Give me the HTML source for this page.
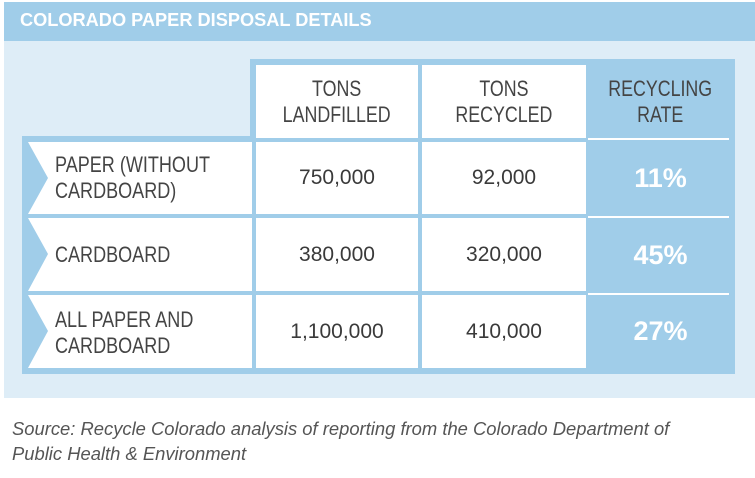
<!DOCTYPE html>
<html><head><meta charset="utf-8"><style>
body{margin:0;width:755px;height:478px;background:#fff;position:relative;overflow:hidden;font-family:"Liberation Sans",sans-serif}
.a{position:absolute}
.n{color:#444;font-size:22px;line-height:26px}
.n span{display:inline-block;transform:scaleX(0.81)}
.l{transform:scaleX(0.82);transform-origin:0 0}
.c{text-align:center;display:flex;align-items:center;justify-content:center}
.num{color:#3a3a3a;font-size:21px}
.pct{color:#fff;font-weight:bold;font-size:27px}
</style></head><body>
<svg class="a" style="left:0;top:0" width="755" height="478">
<rect x="4" y="2" width="751" height="396" fill="#deedf7"/>
<rect x="4" y="2" width="751" height="39" fill="#a0cde9"/>
<rect x="250" y="59" width="485" height="315" fill="#a0cde9"/>
<rect x="22" y="136" width="234" height="238" fill="#a0cde9"/>
<rect x="256" y="65" width="162" height="73" fill="#fff"/>
<rect x="422" y="65" width="164" height="73" fill="#fff"/>
<g fill="#fff">
<polygon points="28,142 252,142 252,214 28,214 48,178"/>
<rect x="256" y="142" width="162" height="72"/>
<rect x="422" y="142" width="164" height="72"/>
<polygon points="28,218 252,218 252,291 28,291 48,254"/>
<rect x="256" y="218" width="162" height="73"/>
<rect x="422" y="218" width="164" height="73"/>
<polygon points="28,295 252,295 252,368 28,368 48,331"/>
<rect x="256" y="295" width="162" height="73"/>
<rect x="422" y="295" width="164" height="73"/>
<rect x="588" y="138" width="141" height="2"/>
<rect x="588" y="216" width="141" height="2"/>
<rect x="588" y="293" width="141" height="2"/>
</g>
</svg>
<div class="a" style="left:20px;top:10px;color:#fff;font-weight:bold;font-size:18.2px;line-height:20px">COLORADO PAPER DISPOSAL DETAILS</div>
<div class="a n c" style="left:256px;top:65px;width:162px;height:73px"><span>TONS<br>LANDFILLED</span></div>
<div class="a n c" style="left:422px;top:65px;width:164px;height:73px"><span>TONS<br>RECYCLED</span></div>
<div class="a n c" style="left:588px;top:65px;width:145px;height:73px"><span>RECYCLING<br>RATE</span></div>
<div class="a n l" style="left:55px;top:152px">PAPER (WITHOUT<br>CARDBOARD)</div>
<div class="a n l" style="left:55px;top:242px">CARDBOARD</div>
<div class="a n l" style="left:55px;top:307px">ALL PAPER AND<br>CARDBOARD</div>
<div class="a c num" style="left:256px;top:142px;width:162px;height:72px">750,000</div>
<div class="a c num" style="left:422px;top:142px;width:164px;height:72px">92,000</div>
<div class="a c pct" style="left:588px;top:140px;width:145px;height:76px">11%</div>
<div class="a c num" style="left:256px;top:218px;width:162px;height:73px">380,000</div>
<div class="a c num" style="left:422px;top:218px;width:164px;height:73px">320,000</div>
<div class="a c pct" style="left:588px;top:218px;width:145px;height:75px">45%</div>
<div class="a c num" style="left:256px;top:295px;width:162px;height:73px">1,100,000</div>
<div class="a c num" style="left:422px;top:295px;width:164px;height:73px">410,000</div>
<div class="a c pct" style="left:588px;top:295px;width:145px;height:73px">27%</div>
<div class="a" style="left:12px;top:416px;color:#555;font-style:italic;font-size:18.4px;line-height:25px">Source: Recycle Colorado analysis of reporting from the Colorado Department of<br>Public Health &amp; Environment</div>
</body></html>
